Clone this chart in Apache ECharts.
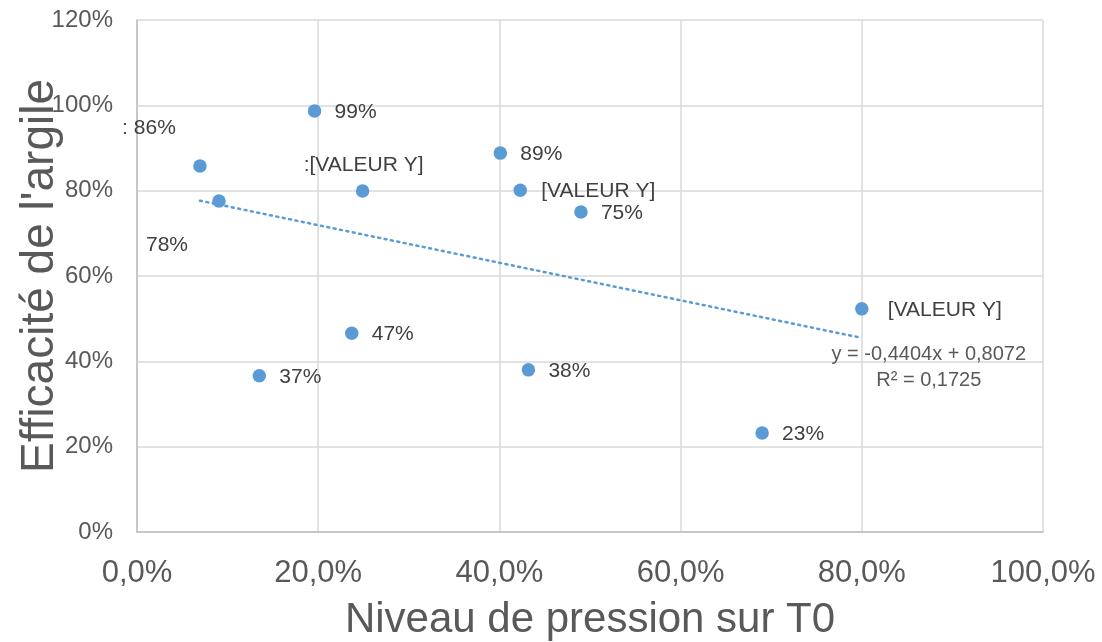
<!DOCTYPE html>
<html>
<head>
<meta charset="utf-8">
<script src="https://cdn.jsdelivr.net/npm/echarts@6/dist/echarts.min.js"></script>
<style>
html,body{margin:0;padding:0;background:#fff;}
#chart{width:1102px;height:642px;}
</style>
</head>
<body>
<div id="chart"></div>
<script>
// Data (fractions: 0.25 = 25%)
const pressure = [0.0695, 0.0905, 0.135, 0.196, 0.237, 0.249, 0.401, 0.423, 0.432, 0.490, 0.690, 0.800];
const efficacy = [0.858, 0.776, 0.366, 0.987, 0.466, 0.799, 0.888, 0.801, 0.380, 0.750, 0.232, 0.523];
const labelTexts = [': 86%', '78%', '37%', '99%', '47%', ':[VALEUR Y]', '89%', '[VALEUR Y]', '38%', '75%', '23%', '[VALEUR Y]'];
const xTicks = [0, 0.2, 0.4, 0.6, 0.8, 1.0];
const yTicks = [0, 0.2, 0.4, 0.6, 0.8, 1.0, 1.2];
const trendSlope = -0.4404;
const trendIntercept = 0.8072;
const trendR2 = '0,1725';

// Label layout offsets (px, relative to marker centre)
const labelOffsets = [[-51,-38],[-52,44],[41,1],[41,1],[41,1],[1,-26],[41,1],[78,1],[41,1],[41,1],[41,1],[83,1]];

const blue = '#5B9BD5';
const txt = '#595959';
const font = 'Liberation Sans, Arial, sans-serif';

const xMin = Math.min(...pressure), xMax = Math.max(...pressure);
const trend = [[xMin, trendSlope*xMin + trendIntercept], [xMax, trendSlope*xMax + trendIntercept]];
const eqText = 'y = ' + trendSlope.toFixed(4).replace('.', ',') + 'x + ' + trendIntercept.toFixed(4).replace('.', ',') + '\nR² = ' + trendR2;

const scatterData = pressure.map((x, i) => ({
  value: [x, efficacy[i]],
  label: {
    show: true,
    position: 'inside',
    offset: labelOffsets[i],
    formatter: labelTexts[i],
    color: '#404040',
    fontSize: 21,
    fontFamily: font,
    align: 'center',
    verticalAlign: 'middle'
  }
}));

const chart = echarts.init(document.getElementById('chart'), null, {renderer: 'canvas'});
chart.setOption({
  animation: false,
  backgroundColor: '#fff',
  grid: {left: 137, right: 59, top: 20, bottom: 110, containLabel: false, outerBoundsMode: 'none'},
  xAxis: {
    type: 'value', min: 0, max: 1, interval: 0.2,
    name: 'Niveau de pression sur T0', nameLocation: 'middle', nameGap: 67, nameMoveOverlap: false,
    nameTextStyle: {fontSize: 42, color: txt, fontFamily: font},
    axisLine: {show: true, lineStyle: {color: '#bfbfbf', width: 1.5}},
    axisTick: {show: false},
    axisLabel: {fontSize: 31, color: txt, fontFamily: font, margin: 26,
      formatter: v => (v*100).toFixed(1).replace('.', ',') + '%'},
    splitLine: {show: true, lineStyle: {color: '#d9d9d9', width: 1.5}}
  },
  yAxis: {
    type: 'value', min: 0, max: 1.2, interval: 0.2,
    name: "Efficacité de l'argile", nameLocation: 'middle', nameGap: 74, nameMoveOverlap: false,
    nameTextStyle: {fontSize: 46, color: txt, fontFamily: font},
    axisLine: {show: true, lineStyle: {color: '#bfbfbf', width: 1.5}},
    axisTick: {show: false},
    axisLabel: {fontSize: 24, color: txt, fontFamily: font, margin: 24,
      formatter: v => Math.round(v*100) + '%'},
    splitLine: {show: true, lineStyle: {color: '#d9d9d9', width: 1.5}}
  },
  series: [
    {
      type: 'line',
      data: [
        {value: trend[0]},
        {value: trend[1], label: {show: true, position: 'inside', offset: [67, 30], formatter: eqText,
          color: txt, fontSize: 20, fontFamily: font, align: 'center', verticalAlign: 'middle', lineHeight: 26}}
      ],
      symbol: 'circle', symbolSize: 0, showSymbol: true,
      lineStyle: {color: blue, width: 2.5, type: [2, 4.5], cap: 'round'},
      itemStyle: {color: blue},
      z: 2, silent: true
    },
    {
      type: 'scatter',
      data: scatterData,
      symbolSize: 13.5,
      itemStyle: {color: blue, opacity: 1},
      z: 3
    }
  ]
});
</script>
</body>
</html>
